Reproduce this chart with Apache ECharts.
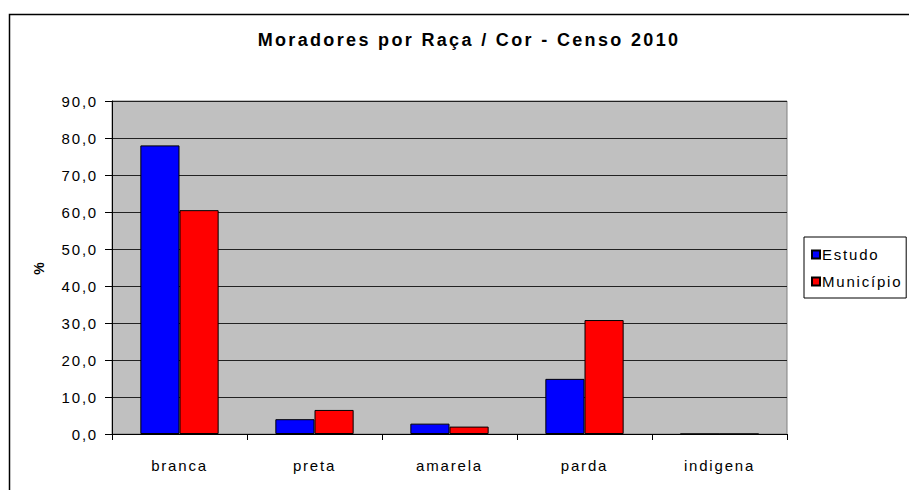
<!DOCTYPE html>
<html>
<head>
<meta charset="utf-8">
<script src="https://cdn.jsdelivr.net/npm/echarts@6/dist/echarts.min.js"></script>
<style>
  html, body { margin: 0; padding: 0; background: #fff; }
  #chart { width: 909px; height: 490px; }
  /* texto mais espaçado, como no gráfico original */
  #chart text { letter-spacing: 0.12em; }
  #chart text[style*="bold"] { letter-spacing: 0.13em; }
</style>
</head>
<body>
<div id="chart"></div>
<script>
// categorias (raça / cor)
const categorias = ['branca', 'preta', 'amarela', 'parda', 'indigena']
// percentuais
const estudo = [78.0, 4.0, 2.8, 14.9, 0]
const municipio = [60.5, 6.5, 2.0, 30.8, 0]
const yMin = 0
const yMax = 90
const yStep = 10

const fonte = "'Liberation Sans', Arial, sans-serif"

const chart = echarts.init(document.getElementById('chart'), null, { renderer: 'svg' })

const option = {
  backgroundColor: '#ffffff',
  animation: false,
  title: {
    text: 'Moradores por Raça / Cor - Censo 2010',
    left: 469,
    textAlign: 'center',
    top: 31,
    padding: 0,
    textStyle: {
      fontFamily: fonte,
      fontSize: 18,
      fontWeight: 'bold',
      color: '#000'
    }
  },
  legend: {
    orient: 'vertical',
    left: 804,
    top: 237,
    padding: [10, 20, 9, 7],
    itemWidth: 8,
    itemHeight: 8,
    itemGap: 12,
    icon: 'rect',
    borderColor: '#000',
    borderWidth: 1,
    backgroundColor: '#fff',
    textStyle: {
      fontFamily: fonte,
      fontSize: 15,
      color: '#000',
      padding: [0, 0, 0, -3]
    },
    data: ['Estudo', 'Município']
  },
  grid: {
    left: 112,
    right: 122,
    top: 101,
    bottom: 56,
    show: true,
    backgroundColor: '#c0c0c0',
    borderColor: '#808080',
    borderWidth: 1
  },
  xAxis: {
    type: 'category',
    data: categorias,
    axisLine: { lineStyle: { color: '#000', width: 1 } },
    axisTick: { show: true, alignWithLabel: false, length: 6, lineStyle: { color: '#000' } },
    axisLabel: {
      margin: 24,
      fontFamily: fonte,
      fontSize: 15,
      color: '#000'
    },
    splitLine: { show: false }
  },
  yAxis: {
    type: 'value',
    min: yMin,
    max: yMax,
    interval: yStep,
    name: '%',
    nameLocation: 'middle',
    nameRotate: 90,
    nameGap: 66,
    nameTextStyle: {
      fontFamily: fonte,
      fontSize: 14,
      fontWeight: 'bold',
      color: '#000'
    },
    axisLine: { show: true, lineStyle: { color: '#000', width: 1 } },
    axisTick: { show: true, length: 7, lineStyle: { color: '#000' } },
    axisLabel: {
      margin: 14,
      fontFamily: fonte,
      fontSize: 15,
      color: '#000',
      formatter: v => v.toFixed(1).replace('.', ',')
    },
    splitLine: { show: true, lineStyle: { color: '#222', width: 1 } }
  },
  series: [
    {
      name: 'Estudo',
      type: 'bar',
      data: estudo,
      barWidth: '29%',
      barGap: '0%',
      itemStyle: { color: '#0000ff', borderColor: '#000', borderWidth: 1 }
    },
    {
      name: 'Município',
      type: 'bar',
      data: municipio,
      barWidth: '29%',
      barGap: '0%',
      itemStyle: { color: '#ff0000', borderColor: '#000', borderWidth: 1 }
    }
  ],
  graphic: [
    {
      // moldura externa do gráfico
      type: 'rect',
      left: 7,
      top: 12,
      shape: { width: 1000, height: 1000 },
      style: { fill: 'none', stroke: '#000', lineWidth: 1.5 },
      silent: true
    }
  ]
}

chart.setOption(option)
</script>
</body>
</html>
